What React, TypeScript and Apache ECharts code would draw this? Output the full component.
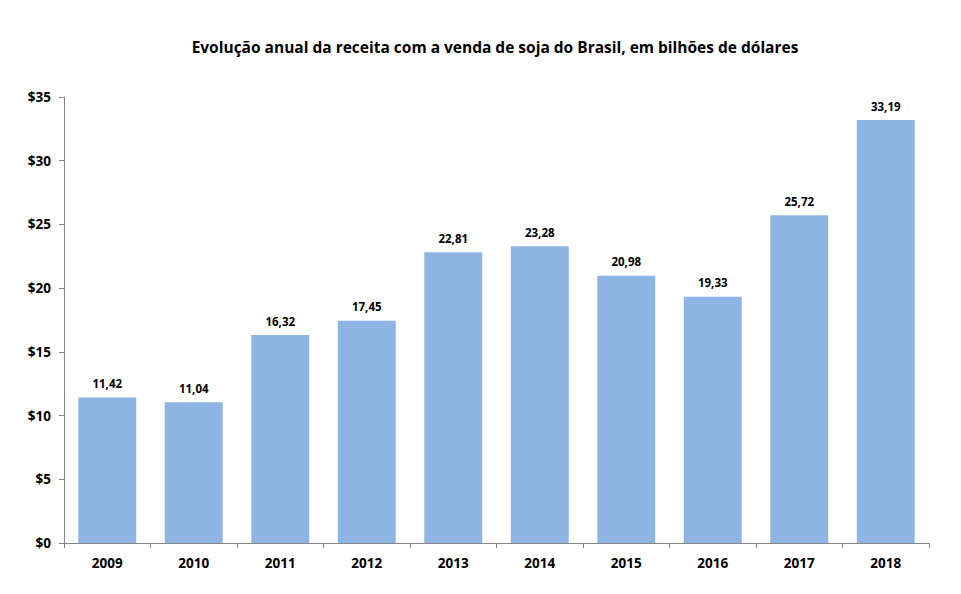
import React, { useEffect, useRef } from "react";
import * as echarts from "echarts";

const years = ["2009", "2010", "2011", "2012", "2013", "2014", "2015", "2016", "2017", "2018"];
const revenue = [11.42, 11.04, 16.32, 17.45, 22.81, 23.28, 20.98, 19.33, 25.72, 33.19];
const titleText = "Evolução anual da receita com a venda de soja do Brasil, em bilhões de dólares";

const FONT = "'Open Sans', 'Noto Sans', sans-serif";

export default function App() {
  const ref = useRef<HTMLDivElement>(null);
  useEffect(() => {
    if (!ref.current) return;
    const chart = echarts.init(ref.current, null, { renderer: "svg" });
    chart.setOption({
      animation: false,
      backgroundColor: "#ffffff",
      title: {
        text: titleText,
        left: 482,
        textAlign: "center",
        top: 26,
        textStyle: { fontFamily: FONT, fontSize: 15.5, fontWeight: "bold", color: "#000" },
      },
      grid: { left: 56, right: 24, top: 89, bottom: 43, containLabel: false },
      xAxis: {
        type: "category",
        data: years,
        axisLine: { lineStyle: { color: "#868686", width: 1 } },
        axisTick: { show: true, length: 5, lineStyle: { color: "#868686" }, alignWithLabel: false },
        axisLabel: { fontFamily: FONT, fontSize: 13.5, fontWeight: "bold", color: "#000", margin: 13 },
      },
      yAxis: {
        type: "value",
        min: 0,
        max: 35,
        interval: 5,
        axisLine: { show: true, lineStyle: { color: "#868686", width: 1 } },
        axisTick: { show: true, length: 5, lineStyle: { color: "#868686" } },
        splitLine: { show: false },
        axisLabel: {
          fontFamily: FONT,
          fontSize: 13.5,
          fontWeight: "bold",
          color: "#000",
          margin: 13,
          formatter: (v: number) => "$" + v,
        },
      },
      series: [
        {
          type: "bar",
          data: revenue,
          barWidth: "67%",
          itemStyle: { color: "#8EB4E3" },
          label: {
            show: true,
            position: "top",
            distance: 8,
            fontFamily: FONT,
            fontSize: 11.5,
            fontWeight: "bold",
            color: "#000",
            formatter: (p: any) => p.value.toFixed(2).replace(".", ","),
          },
        },
      ],
    });
    return () => chart.dispose();
  }, []);
  return <div ref={ref} style={{ width: 945, height: 578 }} />;
}
